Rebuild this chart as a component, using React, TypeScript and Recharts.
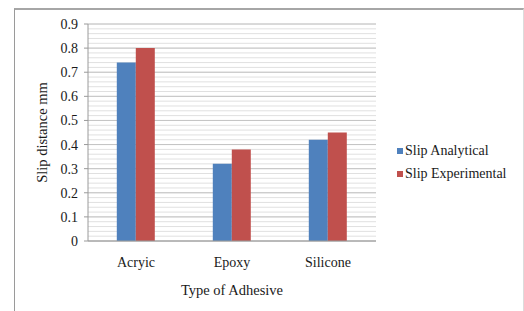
import { BarChart, Bar, XAxis, YAxis, CartesianGrid, Label } from "recharts";

const CATEGORIES = ["Acryic", "Epoxy", "Silicone"];
const SLIP_ANALYTICAL = [0.74, 0.32, 0.42];
const SLIP_EXPERIMENTAL = [0.8, 0.38, 0.45];
const MAJOR_TICKS = [0, 0.1, 0.2, 0.3, 0.4, 0.5, 0.6, 0.7, 0.8, 0.9];
const MINOR_TICKS = Array.from({ length: 46 }, (_, i) => (i * 2) / 100);
const Y_MAX = 0.9;

const SERIES = [
  { key: "analytical", name: "Slip Analytical", color: "#4F81BD" },
  { key: "experimental", name: "Slip Experimental", color: "#C0504D" },
];

const data = CATEGORIES.map((name, i) => ({
  name,
  analytical: SLIP_ANALYTICAL[i],
  experimental: SLIP_EXPERIMENTAL[i],
}));

const FONT = "'Liberation Serif', 'Times New Roman', serif";
const TEXT = "#1a1a1a";

// grid lines at every 0.02, placed through the y axis scale when it is exposed
const gridAt = (ticks: number[]) => (props: any) => {
  const scale = props?.yAxis?.scale;
  if (typeof scale === "function") return ticks.map((t) => scale(t));
  if (scale && typeof scale.map === "function") return ticks.map((t) => scale.map(t));
  const { top, height } = props.offset;
  return ticks.map((t) => top + height * (1 - t / Y_MAX));
};

export default function App() {
  return (
    <div
      style={{
        position: "absolute",
        left: 0,
        top: 0,
        width: 524,
        height: 311,
        background: "#fff",
        fontFamily: FONT,
        overflow: "hidden",
      }}
    >
      <div
        style={{
          position: "absolute",
          left: 14,
          top: 8,
          width: 508,
          height: 320,
          borderLeft: "1px solid #9a9a9a",
          borderTop: "2px solid #a6a6a6",
          borderRight: "1px solid #dcdcdc",
        }}
      />
      <BarChart
        width={524}
        height={311}
        data={data}
        margin={{ top: 24, right: 148, left: 28, bottom: 10 }}
        barCategoryGap="30%"
        barGap={0}
        style={{ position: "absolute", left: 0, top: 0 }}
      >
        <CartesianGrid
          vertical={false}
          stroke="#e0e0e0"
          horizontalCoordinatesGenerator={gridAt(MINOR_TICKS)}
        />
        <CartesianGrid
          vertical={false}
          stroke="#c4c4c4"
          horizontalCoordinatesGenerator={gridAt(MAJOR_TICKS)}
        />
        <XAxis
          dataKey="name"
          tickLine={false}
          axisLine={{ stroke: "#9a9a9a" }}
          tickMargin={10}
          height={60}
          tick={{ fill: TEXT, fontSize: 14, fontFamily: FONT }}
        >
          <Label
            value="Type of Adhesive"
            position="insideBottom"
            offset={6}
            style={{ fill: TEXT, fontSize: 14.5, fontFamily: FONT }}
          />
        </XAxis>
        <YAxis
          width={60}
          domain={[0, Y_MAX]}
          ticks={MAJOR_TICKS}
          interval={0}
          tickSize={4}
          tickMargin={6}
          axisLine={{ stroke: "#9a9a9a" }}
          tickLine={{ stroke: "#9a9a9a" }}
          tick={{ fill: TEXT, fontSize: 14, fontFamily: FONT }}
        >
          <Label
            value="Slip distance mm"
            angle={-90}
            position="center"
            dx={-16}
            style={{ fill: TEXT, fontSize: 14.5, fontFamily: FONT, textAnchor: "middle" }}
          />
        </YAxis>
        {SERIES.map((s) => (
          <Bar
            key={s.key}
            dataKey={s.key}
            name={s.name}
            fill={s.color}
            isAnimationActive={false}
          />
        ))}
      </BarChart>
      <div
        style={{
          position: "absolute",
          left: 397,
          top: 139,
          fontFamily: FONT,
          fontSize: 14,
          color: TEXT,
        }}
      >
        {SERIES.map((s) => (
          <div key={s.key} style={{ display: "flex", alignItems: "center", height: 23 }}>
            <span
              style={{
                display: "inline-block",
                width: 6,
                height: 6,
                background: s.color,
                marginRight: 2,
              }}
            />
            {s.name}
          </div>
        ))}
      </div>
    </div>
  );
}
